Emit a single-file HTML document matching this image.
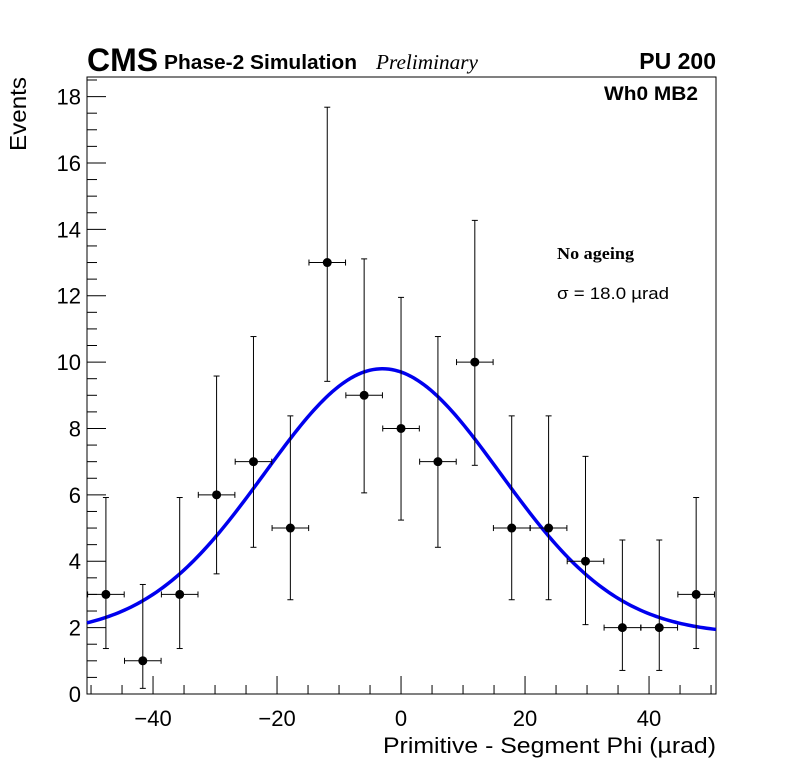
<!DOCTYPE html>
<html><head><meta charset="utf-8"><style>
body{margin:0;background:#fff;}
svg{display:block;font-family:"Liberation Sans",Arial,sans-serif;}
</style></head><body>
<svg id="chart" width="796" height="772" viewBox="0 0 796 772"></svg>
<script>
const binCenters=[-47.6,-41.65,-35.7,-29.75,-23.8,-17.85,-11.9,-5.95,0,5.95,11.9,17.85,23.8,29.75,35.7,41.65,47.6];
const counts=[3,1,3,6,7,5,13,9,8,7,10,5,5,4,2,2,3];
const errLow=[1.63,0.83,1.63,2.38,2.58,2.16,3.58,2.94,2.76,2.58,3.11,2.16,2.16,1.91,1.29,1.29,1.63];
const errHigh=[2.92,2.30,2.92,3.58,3.77,3.38,4.68,4.11,3.95,3.77,4.27,3.38,3.38,3.16,2.64,2.64,2.92];
const binHalfWidth=2.95;
const fitParams=[1.8,8.0,-3,19];
const xTicks=[-40,-20,0,20,40];
const yTicks=[0,2,4,6,8,10,12,14,16,18];
const X0=87,X1=716,Y0=694,Y1=77,xmin=-50.65,xmax=50.8,ymin=0,ymax=18.59;
const sx=v=>X0+(v-xmin)/(xmax-xmin)*(X1-X0);
const sy=v=>Y0-(v-ymin)/(ymax-ymin)*(Y0-Y1);
const svg=document.getElementById('chart');
const NS='http://www.w3.org/2000/svg';
function mk(tag,attrs,parent){const e=document.createElementNS(NS,tag);for(const k in attrs)e.setAttribute(k,attrs[k]);(parent||svg).appendChild(e);return e;}
let f=mk('rect',{x:X0,y:Y1,width:X1-X0,height:Y0-Y1,fill:'none',stroke:'#000','stroke-width':1});


for(let v=-50;v<=50;v+=5){const maj=v%20===0;const t=mk('line',{x1:sx(v),x2:sx(v),y1:Y0,y2:Y0-(maj?18:9),stroke:'#000'});

}
for(const v of xTicks){const t=mk('text',{x:sx(v),y:726,'font-size':22,'text-anchor':'middle'});t.textContent=v<0?'\u2212'+(-v):String(v);

}
for(let v=0;v<=18.5;v+=0.5){const maj=Math.abs(v%2)<1e-9;const t=mk('line',{x1:X0,x2:X0+(maj?19:10),y1:sy(v),y2:sy(v),stroke:'#000'});

}
for(const v of yTicks){const t=mk('text',{x:81,y:sy(v)+8,'font-size':22,'text-anchor':'end'});t.textContent=String(v);

}
let d='';for(let i=0;i<=200;i++){const x=xmin+i*(xmax-xmin)/200;const y=fitParams[0]+fitParams[1]*Math.exp(-Math.pow(x-fitParams[2],2)/(2*fitParams[3]*fitParams[3]));d+=(i?'L':'M')+sx(x).toFixed(2)+','+sy(y).toFixed(2);}
let c=mk('path',{d:d,fill:'none',stroke:'#0000ee','stroke-width':3.5});


binCenters.forEach((x,i)=>{const g=mk('g',{});


const cx=sx(x),cy=sy(counts[i]);
mk('line',{x1:sx(x-binHalfWidth),x2:sx(x+binHalfWidth),y1:cy,y2:cy,stroke:'#000'},g);
mk('line',{x1:cx,x2:cx,y1:sy(counts[i]+errHigh[i]),y2:sy(counts[i]-errLow[i]),stroke:'#000'},g);
[sx(x-binHalfWidth),sx(x+binHalfWidth)].forEach(a=>mk('line',{x1:a,x2:a,y1:cy-3,y2:cy+3,stroke:'#000'},g));
[sy(counts[i]+errHigh[i]),sy(counts[i]-errLow[i])].forEach(yy=>mk('line',{x1:cx-3,x2:cx+3,y1:yy,y2:yy,stroke:'#000'},g));
mk('circle',{cx:cx,cy:cy,r:4.5,fill:'#000'},g);});
</script>
<script>
(function(){const svg=document.getElementById('chart');const NS='http://www.w3.org/2000/svg';
function t(x,y,s,txt,extra,name){const e=document.createElementNS(NS,'text');e.setAttribute('x',x);e.setAttribute('y',y);e.setAttribute('font-size',s);for(const k in extra)e.setAttribute(k,extra[k]);e.textContent=txt;


svg.appendChild(e);return e;}
t(87,71,32,'CMS',{'font-weight':'bold','textLength':71,'lengthAdjust':'spacingAndGlyphs'},'cms-label');
t(164,69,20,'Phase-2 Simulation',{'font-weight':'bold','textLength':193,'lengthAdjust':'spacingAndGlyphs'},'phase2-label');
t(376,69,21,'Preliminary',{'font-style':'italic','font-family':'Liberation Serif, serif','textLength':102,'lengthAdjust':'spacingAndGlyphs'},'preliminary-label');
t(716,69,23,'PU 200',{'font-weight':'bold','text-anchor':'end'},'pu-label');
t(698,100,19,'Wh0 MB2',{'font-weight':'bold','text-anchor':'end','textLength':94,'lengthAdjust':'spacingAndGlyphs'},'station-label');
t(557,259,17,'No ageing',{'font-weight':'bold','font-family':'Liberation Serif, serif','textLength':77,'lengthAdjust':'spacingAndGlyphs'},'ageing-label');
t(557,299,17,'\u03c3 = 18.0  \u00b5rad',{'textLength':112,'lengthAdjust':'spacingAndGlyphs'},'sigma-label');
t(716,753,22,'Primitive - Segment Phi (\u00b5rad)',{'text-anchor':'end','textLength':333,'lengthAdjust':'spacingAndGlyphs'},'x-axis-title');
t(0,0,23,'Events',{'text-anchor':'end',transform:'translate(26,77) rotate(-90)','textLength':74,'lengthAdjust':'spacingAndGlyphs'},'y-axis-title');
})();
</script>
</body></html>
